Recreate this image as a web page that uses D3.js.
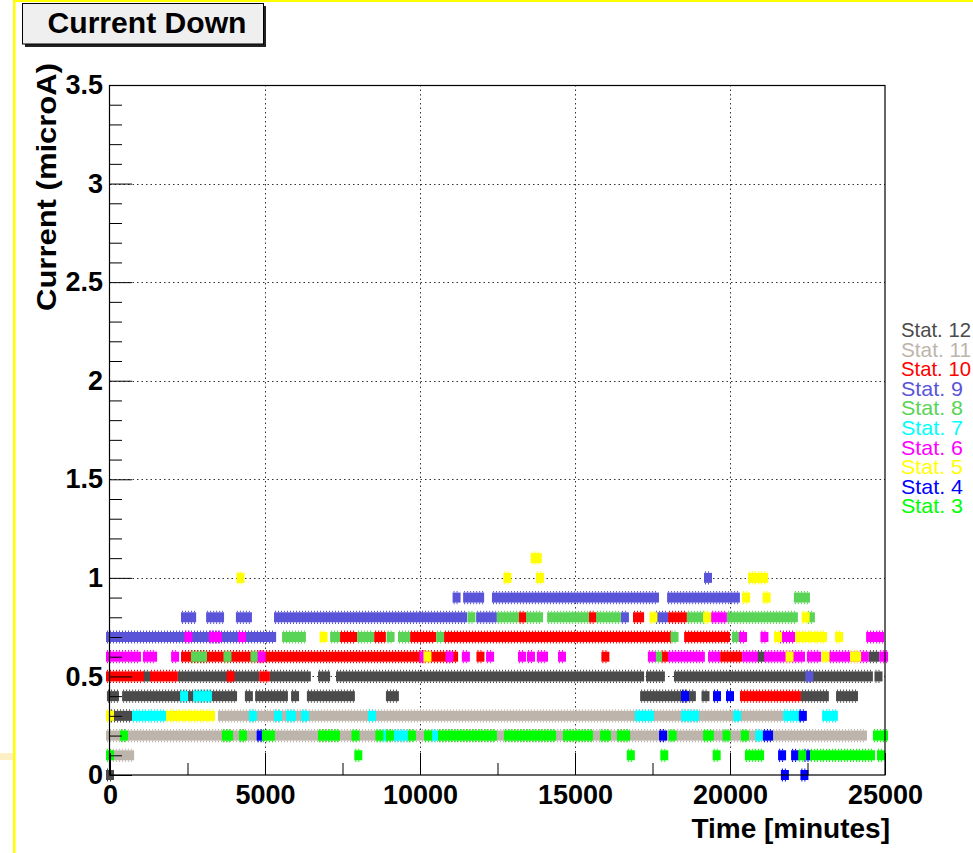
<!DOCTYPE html>
<html>
<head>
<meta charset="utf-8">
<script src="https://cdn.jsdelivr.net/npm/d3@7"></script>
<style>
  body { margin: 0; background: #fff; }
  svg { display: block; font-family: "Liberation Sans", Arial, Helvetica, sans-serif; }
</style>
</head>
<body>
<svg id="chart" width="973" height="853"></svg>
<script>
// stations, in legend order (also drawing order: the last one ends up on top)
const stations = [12, 11, 10, 9, 8, 7, 6, 5, 4, 3]
const stationColors = ["#4b4b4b", "#bdb5ab", "#ff0000", "#5a55d8", "#5ad456", "#00ffff", "#ff00ff", "#ffff00", "#0000ff", "#00ff00"]

// readings as runs: [current (microA), first minute, last minute]
const stat12 = [
  [0.5, 1190, 1190], [0.5, 2320, 4680], [0.5, 5290, 6350], [0.5, 6840, 6970], [0.5, 7420, 17100],
  [0.5, 17420, 17770], [0.5, 18320, 24480], [0.5, 24790, 24790],
  [0.4, 30, 160], [0.4, 520, 3970], [0.4, 4480, 4480], [0.4, 4810, 5610], [0.4, 5970, 5970],
  [0.4, 6480, 7770], [0.4, 9030, 9190], [0.4, 17230, 18770], [0.4, 19210, 19210],
  [0.4, 22420, 23060], [0.4, 23550, 24000],
  [0.3, 130, 580],
  [0.6, 21000, 21000], [0.6, 24610, 24680],
  [0, 0, 0]
]
const stat11 = [
  [0.3, 3610, 21580],
  [0.2, 0, 24290],
  [0.1, 190, 650]
]
const stat10 = [
  [0.5, 0, 970], [0.5, 1420, 2060], [0.5, 3890, 3890], [0.5, 4940, 5030],
  [0.4, 20450, 22160],
  [0.6, 2420, 11100], [0.6, 11950, 11950], [0.6, 15980, 15980], [0.6, 17890, 17890], [0.6, 19810, 20260],
  [0.7, 7550, 7840], [0.7, 8650, 8770], [0.7, 9810, 10390], [0.7, 10900, 18000], [0.7, 18650, 19870],
  [0.8, 13310, 13310], [0.8, 15570, 15570], [0.8, 17000, 17100], [0.8, 18130, 18480]
]
const stat9 = [
  [0.5, 22560, 22560],
  [0.7, 0, 5230],
  [0.8, 2420, 2650], [0.8, 3230, 3550], [0.8, 4190, 4450], [0.8, 5420, 11390], [0.8, 11940, 12350],
  [0.8, 16610, 16610], [0.8, 17710, 17870],
  [0.9, 11180, 11180], [0.9, 11520, 11940], [0.9, 12450, 17580], [0.9, 18100, 20190],
  [1.0, 19290, 19290]
]
const stat8 = [
  [0.6, 2740, 3000], [0.6, 3790, 3790], [0.6, 4660, 4660], [0.6, 17680, 17680],
  [0.7, 5680, 6190], [0.7, 7230, 7290], [0.7, 8100, 8390], [0.7, 9050, 9050], [0.7, 9420, 9550],
  [0.7, 10650, 10650], [0.7, 18210, 18210], [0.7, 20190, 20190],
  [0.8, 11660, 11660], [0.8, 12610, 13060], [0.8, 13550, 13840], [0.8, 14230, 15320], [0.8, 15810, 16350],
  [0.8, 18740, 19060], [0.8, 20030, 22060], [0.8, 22610, 22610],
  [0.9, 22190, 22450]
]
const stat7 = [
  [0.4, 2390, 2390], [0.4, 2810, 3160],
  [0.3, 840, 1680], [0.3, 4610, 4610], [0.3, 5420, 5420], [0.3, 5810, 5870], [0.3, 6290, 6290],
  [0.3, 8450, 8450], [0.3, 17060, 17420], [0.3, 18550, 18870], [0.3, 20230, 20230],
  [0.3, 21840, 22190], [0.3, 23100, 23350],
  [0.2, 8860, 8860], [0.2, 9260, 9480], [0.2, 10480, 10480], [0.2, 20940, 20940]
]
const stat6 = [
  [0.6, 0, 870], [0.6, 1190, 1390], [0.6, 2100, 2100], [0.6, 4890, 4890], [0.6, 10110, 10110],
  [0.6, 10950, 10950], [0.6, 11480, 11480], [0.6, 12260, 12260], [0.6, 13290, 13290], [0.6, 13580, 13580],
  [0.6, 13900, 14000], [0.6, 14580, 14580], [0.6, 17480, 17480], [0.6, 18130, 19060], [0.6, 19420, 19550],
  [0.6, 20520, 20770], [0.6, 21230, 22290], [0.6, 22610, 22810], [0.6, 23320, 24350], [0.6, 24940, 24970],
  [0.7, 2530, 2530], [0.7, 3320, 3480], [0.7, 4260, 4260], [0.7, 20420, 20420], [0.7, 21110, 21110],
  [0.7, 21710, 21970], [0.7, 24520, 24840],
  [0.8, 19520, 19770]
]
const stat5 = [
  [1.1, 13700, 13800],
  [1.0, 4210, 4210], [1.0, 12820, 12820], [1.0, 13870, 13870], [1.0, 20710, 21100],
  [0.9, 20520, 20520], [0.9, 21180, 21180],
  [0.8, 17530, 17530], [0.8, 19260, 19260], [0.8, 22440, 22440],
  [0.7, 6890, 6890], [0.7, 21550, 21550], [0.7, 22230, 23000], [0.7, 23520, 23520],
  [0.6, 10240, 10240], [0.6, 21920, 21920], [0.6, 23080, 23080], [0.6, 24000, 24100],
  [0.3, 0, 0], [0.3, 1940, 3260]
]
const stat4 = [
  [0.3, 22350, 22350],
  [0.2, 4860, 4860], [0.2, 17840, 17840], [0.2, 21190, 21260],
  [0.4, 18550, 18550], [0.4, 19580, 19580], [0.4, 20000, 20000],
  [0.1, 21680, 21680], [0.1, 22100, 22100], [0.1, 22500, 22500],
  [0, 21770, 21770], [0, 22400, 22400]
]
const stat3 = [
  [0.2, 450, 450], [0.2, 3740, 3840], [0.2, 4290, 4290], [0.2, 5030, 5190], [0.2, 6840, 7290],
  [0.2, 7920, 7920], [0.2, 8690, 8690], [0.2, 9030, 9030], [0.2, 9740, 9740], [0.2, 10260, 10260],
  [0.2, 10710, 12350], [0.2, 12840, 14260], [0.2, 14740, 15450], [0.2, 15940, 16030], [0.2, 16480, 16650],
  [0.2, 18150, 18150], [0.2, 19260, 19350], [0.2, 19890, 19890], [0.2, 20480, 20480], [0.2, 24740, 24970],
  [0.1, 0, 0], [0.1, 8010, 8010], [0.1, 16800, 16800], [0.1, 17880, 17880], [0.1, 19570, 19570],
  [0.1, 20610, 20970], [0.1, 22330, 22330], [0.1, 22710, 24550], [0.1, 24870, 24870]
]
const runsByStation = [stat12, stat11, stat10, stat9, stat8, stat7, stat6, stat5, stat4, stat3]

// axis ticks
const xMajorTicks = [0, 5000, 10000, 15000, 20000, 25000]
const xMinorTicks = [2500, 7500, 12500, 17500, 22500]
const yMajorTicks = [0, 0.5, 1, 1.5, 2, 2.5, 3, 3.5]
const yMinorTicks = [0.1, 0.2, 0.3, 0.4, 0.6, 0.7, 0.8, 0.9, 1.1, 1.2, 1.3, 1.4, 1.6, 1.7, 1.8, 1.9,
  2.1, 2.2, 2.3, 2.4, 2.6, 2.7, 2.8, 2.9, 3.1, 3.2, 3.3, 3.4]
const xGrid = [5000, 10000, 15000, 20000]
const yGrid = [0.5, 1, 1.5, 2, 2.5, 3]

let svg = d3.select("#chart")

let xScale = d3.scaleLinear().domain([0, 25000]).range([110, 885])
let yScale = d3.scaleLinear().domain([0, 3.5]).range([775, 85])

// page decorations (canvas edges)
svg.append("rect").attr("x", 13).attr("y", 0).attr("width", 2.5).attr("height", 853).attr("fill", "#ffff00")
svg.append("rect").attr("x", 13).attr("y", 0).attr("width", 960).attr("height", 2).attr("fill", "#ffff00")
svg.append("rect").attr("x", 0).attr("y", 753).attr("width", 13).attr("height", 7).attr("fill", "#fcefc6")

// grid
let grid = svg.append("g")
    .attr("stroke", "#333")
    .attr("stroke-width", 1)
    .attr("stroke-dasharray", "1.5,3")
grid.selectAll(".gx").data(xGrid).enter().append("line")
    .attr("x1", d => Math.round(xScale(d)) + 0.5).attr("x2", d => Math.round(xScale(d)) + 0.5)
    .attr("y1", yScale(3.5)).attr("y2", yScale(0))
grid.selectAll(".gy").data(yGrid).enter().append("line")
    .attr("y1", d => Math.round(yScale(d)) + 0.5).attr("y2", d => Math.round(yScale(d)) + 0.5)
    .attr("x1", xScale(0)).attr("x2", xScale(25000))

// data runs
let halfW = 4, halfH = 5
stations.forEach((st, i) => {
    let g = svg.append("g").attr("fill", stationColors[i])
    g.selectAll("rect")
        .data(runsByStation[i])
        .enter().append("rect")
            .attr("x", d => xScale(d[1]) - halfW)
            .attr("width", d => xScale(d[2]) - xScale(d[1]) + 2 * halfW)
            .attr("y", d => yScale(d[0]) - halfH)
            .attr("height", 2 * halfH)
    // marker spikes along the runs
    g.selectAll("path")
        .data(runsByStation[i])
        .enter().append("path")
            .attr("d", d => {
                let x0 = xScale(d[1]) - halfW + 1, x1 = xScale(d[2]) + halfW - 1, yy = yScale(d[0])
                return "M" + x0 + "," + (yy - halfH - 0.8) + "H" + x1 + "M" + x0 + "," + (yy + halfH + 0.8) + "H" + x1
            })
            .attr("stroke", stationColors[i])
            .attr("stroke-width", 1.6)
            .attr("stroke-dasharray", "1,2")
            .attr("fill", "none")
})

// axes
function styleAxis(g) {
    g.select(".domain").remove()
    g.selectAll("line").attr("stroke", "#000")
    g.selectAll("text")
        .attr("fill", "#000")
        .style("font-size", "27px")
        .style("font-weight", "bold")
}

svg.append("g")
    .attr("transform", "translate(0,775)")
    .call(d3.axisBottom(xScale).tickValues(xMinorTicks).tickSize(-12).tickFormat(""))
    .call(styleAxis)
svg.append("g")
    .attr("transform", "translate(0,775)")
    .call(d3.axisBottom(xScale).tickValues(xMajorTicks).tickSize(-22).tickSizeOuter(0).tickPadding(10).tickFormat(d3.format("d")))
    .call(styleAxis)
svg.append("g")
    .attr("transform", "translate(110,0)")
    .call(d3.axisLeft(yScale).tickValues(yMinorTicks).tickSize(-12).tickFormat(""))
    .call(styleAxis)
svg.append("g")
    .attr("transform", "translate(110,0)")
    .call(d3.axisLeft(yScale).tickValues(yMajorTicks).tickSize(-22).tickSizeOuter(0).tickPadding(7).tickFormat(d => String(d)))
    .call(styleAxis)

// frame
svg.append("rect")
    .attr("x", 109.5).attr("y", 85.5)
    .attr("width", 775.5).attr("height", 689.5)
    .attr("fill", "none")
    .attr("stroke", "#000")
    .attr("stroke-width", 1.2)

// axis titles
svg.append("text")
    .attr("transform", "translate(56,63) rotate(-90)")
    .attr("text-anchor", "end")
    .style("font-size", "28px")
    .style("font-weight", "bold")
    .attr("textLength", 248)
    .attr("lengthAdjust", "spacingAndGlyphs")
    .text("Current (microA)")

svg.append("text")
    .attr("x", 890).attr("y", 838)
    .attr("text-anchor", "end")
    .style("font-size", "28px")
    .style("font-weight", "bold")
    .text("Time [minutes]")

// title box
svg.append("rect")
    .attr("x", 25).attr("y", 6)
    .attr("width", 241).attr("height", 41)
    .attr("fill", "#222")
svg.append("rect")
    .attr("x", 22.5).attr("y", 3.5)
    .attr("width", 241).attr("height", 40.5)
    .attr("fill", "#efefef")
    .attr("stroke", "#000")
svg.append("text")
    .attr("x", 147).attr("y", 33)
    .attr("text-anchor", "middle")
    .style("font-size", "29px")
    .style("font-weight", "bold")
    .attr("textLength", 199)
    .attr("lengthAdjust", "spacingAndGlyphs")
    .text("Current Down")

// legend (tightly stacked, as in the original)
svg.append("g").selectAll("text")
    .data(stations)
    .enter().append("text")
        .attr("x", 901)
        .attr("y", (d, i) => 337 + i * 19.6)
        .attr("fill", (d, i) => stationColors[i])
        .style("font-size", "21px")
        .attr("textLength", d => d >= 10 ? 70 : 62)
        .attr("lengthAdjust", "spacingAndGlyphs")
        .text(d => "Stat. " + d)
</script>
</body>
</html>
